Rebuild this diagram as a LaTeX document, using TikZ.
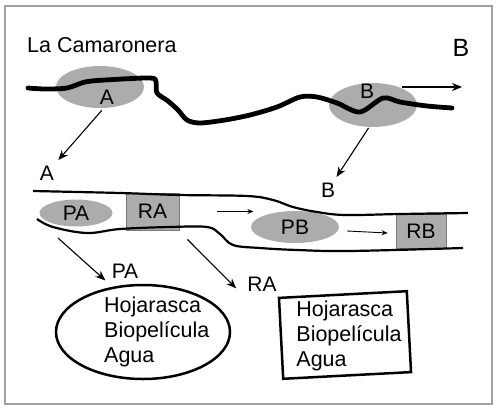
\documentclass[tikz,border=0pt]{standalone}
\usepackage{fontspec}
\setmainfont{Liberation Sans}
\usepackage{tikz}
\usetikzlibrary{shapes.geometric,arrows.meta,positioning}
\definecolor{framegray}{RGB}{160,160,160}
\definecolor{zonegray}{RGB}{172,172,172}
\definecolor{reachedge}{RGB}{120,120,120}

\tikzset{
  zone/.style={ellipse,fill=zonegray,inner sep=0pt},
  reach/.style={rectangle,draw=reachedge,line width=0.8pt,fill=zonegray,inner sep=0pt},
  lbl/.style={font=\fontsize{21}{23}\selectfont,inner sep=4pt},
  listtext/.style={font=\fontsize{21.5}{25}\selectfont,align=left,inner sep=0pt},
  riverline/.style={line width=4.8pt,line cap=round,line join=round},
  bankline/.style={line width=2.2pt},
  flow/.style={-{Stealth[length=10pt,width=8pt]},line width=1.1pt},
  smallflow/.style={-{Stealth[length=6pt,width=5pt]},line width=0.9pt},
}

\begin{document}
\begin{tikzpicture}[x=1pt,y=-1pt]
  \useasboundingbox (0,0) rectangle (500,410);
  \draw[framegray,line width=1.4pt] (5,6) rectangle (492,404);

  \node[font=\fontsize{21.5}{23}\selectfont,anchor=west,inner sep=0pt] (title) at (27,45) {La Camaronera};
  \node[font=\fontsize{25}{27}\selectfont,inner sep=0pt] (mapB) at (461,48) {B};

  % river and sites
  \node[zone,minimum width=88pt,minimum height=42pt] (zA) at (100,87) {};
  \node[zone,minimum width=88pt,minimum height=44pt] (zB) at (373,105) {};
  \draw[riverline] plot[smooth,tension=0.5] coordinates {(28,88) (45,89) (67,88) (85,82) (105,80) (150,78) (156,82) (157,93) (168,101) (178,110) (187,120) (200,123) (225,120) (250,115) (277,107) (300,97) (317,97) (337,103) (360,112) (383,98) (400,102) (427,106) (452,108)};
  \node[lbl,inner sep=0pt] (lA) at (107,97) {A};
  \node[lbl,inner sep=0pt] (lB) at (367,91) {B};

  \node[lbl] (secA) at (47,173) {A};
  \node[lbl] (secB) at (328,190) {B};
  \coordinate (outB) at (462,87);
  \draw[flow,shorten <=3pt,shorten >=2pt] (zA.-80) -- (secA);
  \draw[flow,shorten <=1pt,shorten >=2pt] (zB.-100) -- (secB);
  \draw[flow] ([xshift=29pt,yshift=18pt]zB.center) -- (outB);

  % channel
  \node[reach,minimum width=53pt,minimum height=37pt,lbl] (rA) at (152.5,211.5) {RA};
  \node[reach,minimum width=50pt,minimum height=34pt,lbl] (rB) at (421,231) {RB};
  \node[zone,minimum width=73pt,minimum height=27pt,lbl,inner sep=0pt] (pA) at (76,213) {PA};
  \node[zone,minimum width=88pt,minimum height=32pt,lbl,inner sep=0pt] (pB) at (295,227) {PB};
  \draw[bankline] plot[smooth,tension=0.6] coordinates {(33,191) (120,193) (180,195) (247,196) (273,200) (293,207) (317,212) (345,215) (400,214) (468,213)};
  \draw[bankline] plot[smooth,tension=0.6] coordinates {(37,219) (53,227) (87,233) (120,229) (170,227) (207,227) (220,234) (233,245) (260,248) (297,250) (350,251) (463,248)};
  \draw[smallflow] ([xshift=38pt]rA.east) -- ([xshift=74pt]rA.east);
  \draw[smallflow] ([xshift=8pt,yshift=-4pt]pB.east) -- ([xshift=-8pt,yshift=-2pt]rB.west);

  % samples
  \node[lbl] (secPA) at (125,271) {PA};
  \node[lbl] (secRA) at (262,284) {RA};
  \draw[flow,shorten >=3pt] ([shift={(-18pt,-25pt)}]pA.center) -- (secPA.south west);
  \draw[flow,shorten >=10pt] ([shift={(8pt,-9pt)}]rA.south east) -- (secRA.south west);

  \node[draw,ellipse,line width=2.5pt,minimum width=174pt,minimum height=94pt] (sampPA) at (143,332) {};
  \node[listtext,anchor=west] (txtPA) at (104,332) {Hojarasca\\Biopelícula\\Agua};
  \node[draw,line width=2.5pt,rotate=3,minimum width=128pt,minimum height=81pt] (sampRA) at (345,335) {};
  \node[listtext] (txtRA) at (349,336) {Hojarasca\\Biopelícula\\Agua};
\end{tikzpicture}
\end{document}
